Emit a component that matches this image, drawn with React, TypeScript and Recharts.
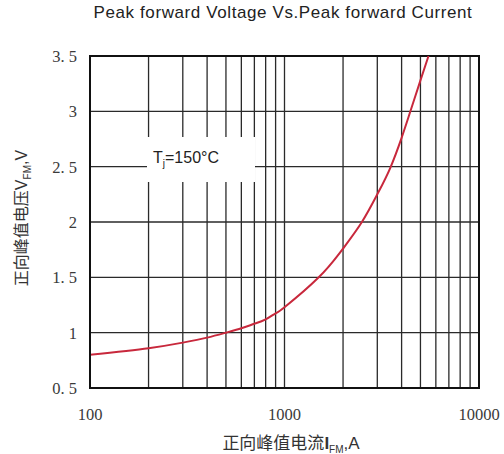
import React from 'react';
import { CartesianGrid, Line, LineChart, ReferenceArea, XAxis, YAxis } from 'recharts';

// forward peak current (A) and voltage (V)
const currentA = [100, 200, 300, 400, 500, 600, 700, 800, 900, 1000, 1500, 2000, 2500, 3000, 3500, 4000, 4400, 5000, 5500];
const voltageV = [0.8, 0.86, 0.91, 0.955, 1.0, 1.04, 1.08, 1.12, 1.175, 1.23, 1.5, 1.76, 2.0, 2.25, 2.49, 2.76, 2.98, 3.28, 3.5];

const xTicks = [100, 200, 300, 400, 500, 600, 700, 800, 900, 1000, 2000, 3000, 4000, 5000, 6000, 7000, 8000, 9000, 10000];
const xLabels = [100, 1000, 10000];
const yTicks = [0.5, 1, 1.5, 2, 2.5, 3, 3.5];

const data = currentA.map((i, k) => ({ i, v: voltageV[k] }));

const tickFont = { fontFamily: '"Liberation Serif", "DejaVu Serif", serif', fontSize: 16.5, fill: '#3a3a3a' };
const cjk = '"Noto Sans CJK SC", sans-serif';
const sans = '"Liberation Sans", Arial, sans-serif';

export default function App() {
  return (
    <div style={{ position: 'absolute', left: 0, top: 0, width: 504, height: 454, background: '#fff' }}>
      <LineChart width={504} height={454} data={data} margin={{ top: 56, right: 25, left: 0, bottom: 0 }}>
        <CartesianGrid stroke="#2a2a2a" strokeWidth={1.3} />
        <XAxis
          dataKey="i"
          type="number"
          scale="log"
          domain={[100, 10000]}
          ticks={xTicks}
          interval={0}
          allowDataOverflow
          height={66}
          tickLine={false}
          tickMargin={14}
          axisLine={{ stroke: '#111', strokeWidth: 2 }}
          tick={tickFont}
          tickFormatter={(v) => (xLabels.includes(v) ? String(v) : '')}
        />
        <YAxis
          type="number"
          domain={[0.5, 3.5]}
          ticks={yTicks}
          interval={0}
          width={90}
          tickLine={false}
          tickMargin={7}
          axisLine={{ stroke: '#111', strokeWidth: 2 }}
          tick={tickFont}
          tickFormatter={(v) => (Number.isInteger(v) ? String(v) : String(v).replace('.', '. '))}
        />
        <ReferenceArea x1={100} x2={10000} y1={0.5} y2={3.5} fill="none" stroke="#111" strokeWidth={2} />
        <Line
          type="natural"
          dataKey="v"
          stroke="#c8283c"
          strokeWidth={2}
          dot={false}
          isAnimationActive={false}
        />
      </LineChart>

      <div
        style={{
          position: 'absolute',
          left: 0,
          width: 566,
          top: 3,
          textAlign: 'center',
          fontFamily: sans,
          fontSize: 17,
          letterSpacing: 0.6,
          color: '#222',
          whiteSpace: 'nowrap',
        }}
      >
        Peak forward Voltage Vs.Peak forward Current
      </div>

      <div
        style={{
          position: 'absolute',
          left: 147,
          top: 137,
          width: 108,
          height: 45,
          background: '#fff',
          display: 'flex',
          alignItems: 'center',
          paddingLeft: 6,
          boxSizing: 'border-box',
          fontFamily: sans,
          fontSize: 16,
          color: '#222',
        }}
      >
        <span>
          T<sub style={{ fontSize: 10 }}>j</sub>=150°C
        </span>
      </div>

      <div
        style={{
          position: 'absolute',
          left: 0,
          width: 582,
          top: 429,
          textAlign: 'center',
          fontSize: 17,
          color: '#333',
          whiteSpace: 'nowrap',
          fontFamily: cjk,
        }}
      >
        正向峰值电流
        <span style={{ fontFamily: sans, fontWeight: 'bold' }}>I</span>
        <sub style={{ fontSize: 10, fontFamily: sans }}>FM</sub>
        <span style={{ fontFamily: sans }}>,A</span>
      </div>

      <div
        style={{
          position: 'absolute',
          left: 20 - 100,
          top: 218 - 12,
          width: 200,
          height: 24,
          lineHeight: '24px',
          textAlign: 'center',
          transform: 'rotate(-90deg)',
          fontSize: 16,
          color: '#333',
          whiteSpace: 'nowrap',
          fontFamily: cjk,
        }}
      >
        正向峰值电压
        <span style={{ fontFamily: sans }}>V</span>
        <sub style={{ fontSize: 10, fontFamily: sans }}>FM</sub>
        <span style={{ fontFamily: sans }}>,V</span>
      </div>
    </div>
  );
}
